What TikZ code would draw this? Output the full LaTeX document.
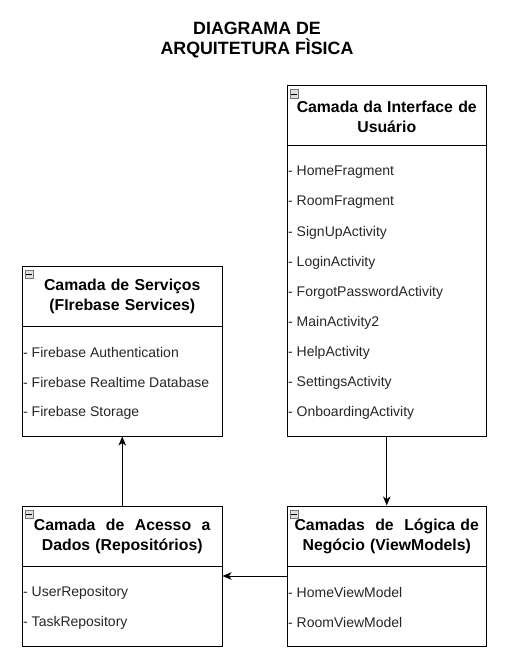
\documentclass[tikz,border=0pt]{standalone}
\usepackage{fontspec}
\setmainfont{Liberation Sans}
\usetikzlibrary{arrows.meta}

\def\boxWidth{199.5}
\def\itemGap{30}

\tikzset{
  layerbox/.style={draw, line width=1pt, minimum width=\boxWidth pt, inner sep=0pt},
  headtext/.style={font=\bfseries\fontsize{15.8}{20.5}\selectfont, align=center, text width=196pt},
  itemtext/.style={font=\fontsize{14}{16}\selectfont, anchor=west, inner sep=0pt, text=black!85},
  foldicon/.style={draw=black!55, fill=black!12, line width=0.5pt, minimum size=8.5pt, inner sep=0pt},
  flow/.style={-{Stealth[length=9pt,width=7.5pt,inset=2.5pt]}, line width=1pt}
}

\begin{document}
\begin{tikzpicture}[x=1pt, y=-1pt]
      \useasboundingbox (0,0) rectangle (513,663);

      % Title
      \node[font=\bfseries\fontsize{17.8}{20.5}\selectfont, align=center] (title)
        at (257, 40) {DIAGRAMA DE\\ARQUITETURA FÌSICA};

      % Interface layer
      \node[layerbox, minimum height=350pt] (ui) at (386.75, 261) {};
      \draw[line width=1pt] (ui.west |- 0,146) -- (ui.east |- 0,146);
      \node[headtext] (uihead) at (386.75, 117) {Camada da Interface de\\Usuário};
      \node[foldicon] (uifold) at (294, 94) {};
      \draw[line width=0.7pt] (uifold.west) ++(1.5pt,0) -- ++(5.5pt,0);
      \foreach \name [count=\i from 0] in {HomeFragment, RoomFragment,
          SignUpActivity, LoginActivity, ForgotPasswordActivity, MainActivity2,
          HelpActivity, SettingsActivity, OnboardingActivity}
        \node[itemtext] (ui\i) at (288, 172.5+\itemGap*\i) {- \name};

      % Services layer
      \node[layerbox, minimum height=170pt] (svc) at (122.25, 351) {};
      \draw[line width=1pt] (svc.west |- 0,326) -- (svc.east |- 0,326);
      \node[headtext] (svchead) at (122.25, 296.5) {Camada de Serviços\\(FIrebase Services)};
      \node[foldicon] (svcfold) at (29, 274) {};
      \draw[line width=0.7pt] (svcfold.west) ++(1.5pt,0) -- ++(5.5pt,0);
      \foreach \name [count=\i from 0] in {Firebase Authentication,
          Firebase Realtime Database, Firebase Storage}
        \node[itemtext] (svc\i) at (23, 352.5+\itemGap*\i) {- \name};

      % Repository layer
      \node[layerbox, minimum height=140pt] (repo) at (122.25, 576) {};
      \draw[line width=1pt] (repo.west |- 0,566) -- (repo.east |- 0,566);
      \node[headtext] (repohead) at (122.25, 536.5) {Camada \ de \ Acesso \ a\\Dados (Repositórios)};
      \node[foldicon] (repofold) at (29, 514) {};
      \draw[line width=0.7pt] (repofold.west) ++(1.5pt,0) -- ++(5.5pt,0);
      \foreach \name [count=\i from 0] in {UserRepository, TaskRepository}
        \node[itemtext] (repo\i) at (23, 592.5+\itemGap*\i) {- \name};

      % ViewModel layer
      \node[layerbox, minimum height=140pt] (vm) at (386.75, 576) {};
      \draw[line width=1pt] (vm.west |- 0,566) -- (vm.east |- 0,566);
      \node[headtext] (vmhead) at (386.75, 536.5) {Camadas \ de \ Lógica de\\Negócio (ViewModels)};
      \node[foldicon] (vmfold) at (294, 514) {};
      \draw[line width=0.7pt] (vmfold.west) ++(1.5pt,0) -- ++(5.5pt,0);
      \foreach \name [count=\i from 0] in {HomeViewModel, RoomViewModel}
        \node[itemtext] (vm\i) at (288, 592.5+\itemGap*\i) {- \name};

      % Connectors
      \draw[flow] (ui.south) -- (vm.north);
      \draw[flow] (vm.west) -- (repo.east);
      \draw[flow] (repo.north) -- (svc.south);
\end{tikzpicture}
\end{document}
